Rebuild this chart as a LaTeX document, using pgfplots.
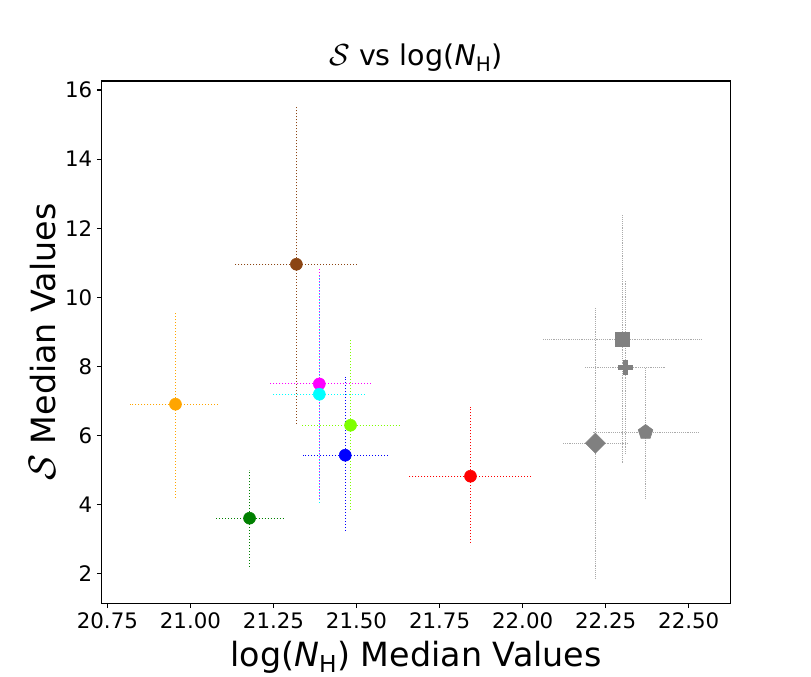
\documentclass[border=0pt]{standalone}
\usepackage{pgfplots}
\pgfplotsset{compat=1.18}
\usepackage{fontspec}
\setmainfont{DejaVu Sans}
\usetikzlibrary{plotmarks}
\definecolor{cOrange}{RGB}{255,165,0}
\definecolor{cGreen}{RGB}{0,128,0}
\definecolor{cBrown}{RGB}{139,69,19}
\definecolor{cMagenta}{RGB}{255,0,255}
\definecolor{cCyan}{RGB}{0,255,255}
\definecolor{cChart}{RGB}{127,255,0}
\definecolor{cBlue}{RGB}{0,0,255}
\definecolor{cRed}{RGB}{255,0,0}
\definecolor{cGray}{RGB}{128,128,128}
\definecolor{cGrayErr}{RGB}{170,170,170}
\pgfplotsset{
  errs/.style={only marks,
    error bars/x dir=both, error bars/x explicit, error bars/y dir=both, error bars/y explicit, error bars/error mark=none,
    error bars/error bar style={line width=0.8pt, dash pattern=on 0.75pt off 1.5pt, color=#1}},
  gerrs/.style={only marks, color=cGray,
    error bars/x dir=both, error bars/x explicit, error bars/y dir=both, error bars/y explicit, error bars/error mark=none,
    error bars/error bar style={line width=0.5pt, dash pattern=on 0.5pt off 0.9pt, color=cGrayErr}},
}
\newcommand{\bigS}{\scalebox{1.15}{$\mathcal{S}$}}
\begin{document}
\begin{tikzpicture}
\path[use as bounding box] (-76.3pt,-55.3pt) rectangle (532pt,452.45pt);
\begin{axis}[
  at={(0,0)}, anchor=south west,
  scale only axis, width=471.45pt, height=391.7pt,
  xmin=20.733, xmax=22.625, ymin=1.152, ymax=16.26,
  xtick={20.75,21.00,21.25,21.50,21.75,22.00,22.25,22.50},
  ytick={2,4,6,8,10,12,14,16},
  xtick pos=left, ytick pos=left,
  tick align=outside, major tick length=3.6pt,
  every tick/.style={black, line width=0.8pt},
  axis line style={line width=0.8pt},
  scaled x ticks=false,
  x tick label style={/pgf/number format/.cd, fixed, fixed zerofill, precision=2, assume math mode=true},
  y tick label style={/pgf/number format/.cd, assume math mode=true},
  tick label style={font=\fontsize{16}{19}\selectfont},
  xlabel={log(\textit{N}\textsubscript{H}) Median Values},
  ylabel={\bigS\ Median Values},
  title={\scalebox{1.1}{$\mathcal{S}$} vs log(\textit{N}\textsubscript{H})},
  xlabel style={font=\fontsize{25}{29}\selectfont, at={(axis description cs:0.5,-0.1214)}, anchor=base},
  ylabel style={font=\fontsize{25}{29}\selectfont, at={(axis description cs:-0.0743,0.5)}, anchor=base, rotate=0},
  title style={font=\fontsize{21.4}{25}\selectfont, at={(axis description cs:0.5,1.0134)}, anchor=base},
  clip=false,
]
\addplot[errs=cOrange, color=cOrange, mark=*, mark size=4.5pt] coordinates {(20.955,6.909) += (0.132,2.678) -= (0.137,2.702)};
\addplot[errs=cGreen, color=cGreen, mark=*, mark size=4.5pt] coordinates {(21.178,3.611) += (0.102,1.389) -= (0.106,1.400)};
\addplot[errs=cBrown, color=cBrown, mark=*, mark size=4.5pt] coordinates {(21.319,10.958) += (0.187,4.579) -= (0.185,4.628)};
\addplot[errs=cMagenta, color=cMagenta, mark=*, mark size=4.5pt] coordinates {(21.388,7.496) += (0.155,3.384) -= (0.151,3.356)};
\addplot[errs=cCyan, color=cCyan, mark=*, mark size=4.5pt] coordinates {(21.388,7.198) += (0.141,3.450) -= (0.141,3.198)};
\addplot[errs=cChart, color=cChart, mark=*, mark size=4.5pt] coordinates {(21.482,6.301) += (0.145,2.468) -= (0.149,2.470)};
\addplot[errs=cBlue, color=cBlue, mark=*, mark size=4.5pt] coordinates {(21.466,5.433) += (0.131,2.257) -= (0.127,2.256)};
\addplot[errs=cRed, color=cRed, mark=*, mark size=4.5pt] coordinates {(21.843,4.826) += (0.185,2.013) -= (0.185,1.967)};
\addplot[gerrs, mark=square*, mark size=5.4pt] coordinates {(22.300,8.789) += (0.239,3.595) -= (0.2405,3.616)};
\addplot[gerrs, mark=+, mark size=5.6pt, mark options={line width=3.6pt, solid}] coordinates {(22.309,7.979) += (0.122,2.516) -= (0.121,2.537)};
\addplot[gerrs, mark=square*, mark size=5.3pt, mark options={rotate=45}] coordinates {(22.219,5.781) += (0.0975,3.922) -= (0.100,3.935)};
\addplot[gerrs, mark=pentagon*, mark size=5.8pt] coordinates {(22.370,6.099) += (0.159,1.880) -= (0.161,1.909)};
\end{axis}
\end{tikzpicture}
\end{document}
